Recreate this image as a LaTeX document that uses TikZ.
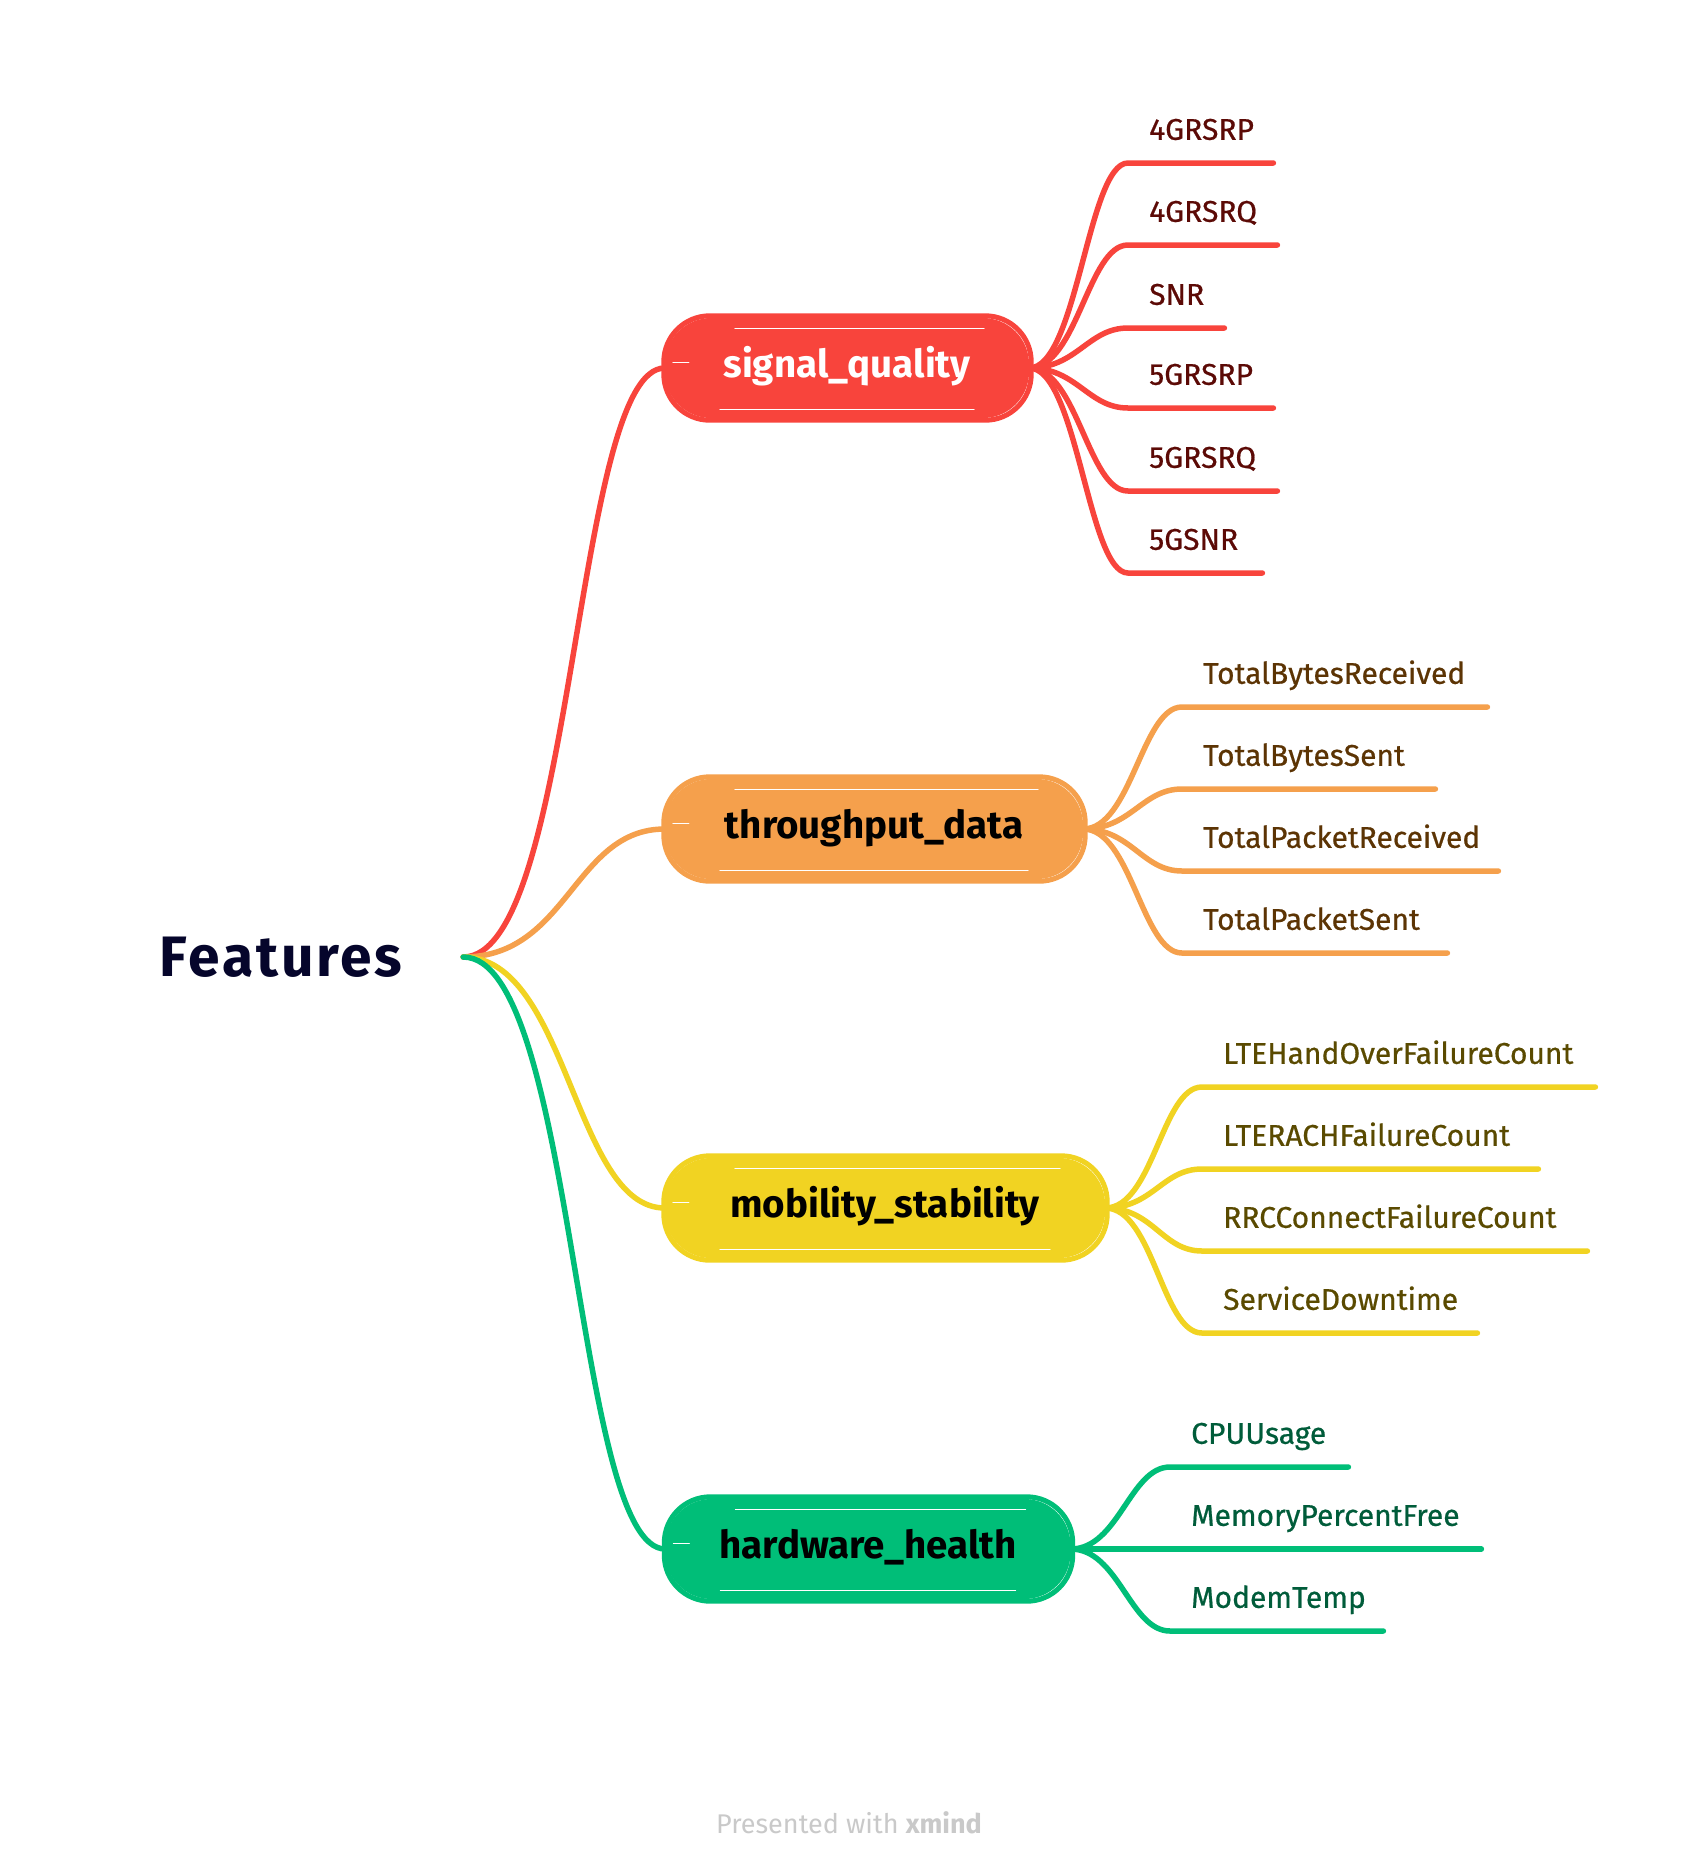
\documentclass[tikz,border=0pt]{standalone}
\usepackage{fontspec}
\setmainfont{Fira Sans}
\usetikzlibrary{calc}
\definecolor{cred}{HTML}{F8443C}
\definecolor{corange}{HTML}{F5A04C}
\definecolor{cyellow}{HTML}{F1D322}
\definecolor{cgreen}{HTML}{00BE78}
\definecolor{tred}{HTML}{5C0A06}
\definecolor{torange}{HTML}{5C3404}
\definecolor{tyellow}{HTML}{5A4A00}
\definecolor{tgreen}{HTML}{005C3A}
\definecolor{troot}{HTML}{05052B}
\definecolor{tfoot}{HTML}{C9C9C9}
\newcommand\sketchbox[2]{%
  \draw[#2, line width=5pt, rounded corners=46pt] ($(#1.north west)+(-1,-2)$) rectangle ($(#1.south east)+(2,2)$);
  \draw[white, line width=1pt, line cap=round] ($(#1.north west)+(70,11)$) -- ($(#1.north east)+(-45,11)$);
  \draw[white, line width=1pt, line cap=round] ($(#1.south west)+(55,-9)$) -- ($(#1.south east)+(-55,-9)$);
  \draw[white, line width=1pt, line cap=round] ($(#1.west)+(8,-6)$) -- ++(16,0);
}
\begin{document}
\begin{tikzpicture}[x=1pt,y=-1pt,
  rootnode/.style={inner sep=0pt, minimum width=364pt, text=troot, font=\bfseries\fontsize{57}{64}\selectfont\addfontfeature{LetterSpace=5}},
  topic/.style={inner sep=0pt, minimum height=100pt, rounded corners=46pt, text height=28pt, text depth=9pt, font=\bfseries\fontsize{38.5}{44}\selectfont},
  leaf/.style={anchor=south west, inner xsep=21pt, inner ysep=23pt, text depth=0pt, font=\fontsize{30}{35}\selectfont\addfontfeature{FakeBold=0.6}},
  br/.style={line width=5.5pt, line cap=round},
  footer/.style={text=tfoot, font=\fontsize{27}{32}\selectfont}]
\useasboundingbox[fill=white] (0,0) rectangle (1692,1872);

% root
\node[rootnode] (root) at (281,957) {Features};

% topics
\node[topic, fill=cred, text=white, minimum width=364pt] (sq) at (847,368) {signal\_quality};
\node[topic, fill=corange, text=black, minimum width=418pt] (td) at (874,829) {throughput\_data};
\node[topic, fill=cyellow, text=black, minimum width=440pt] (ms) at (885,1208) {mobility\_stability};
\node[topic, fill=cgreen, text=black, minimum width=405pt] (hh) at (868,1549) {hardware\_health};

% root branches
\draw[br, cred]    (root.east) .. controls +(112,0) and +(-91,0) .. (sq.west);
\draw[br, corange] (root.east) .. controls +(105,0) and +(-91,0) .. (td.west);
\draw[br, cyellow] (root.east) .. controls +(105,0) and +(-91,0) .. (ms.west);
\draw[br, cgreen]  (root.east) .. controls +(112,0) and +(-91,0) .. (hh.west);

\sketchbox{sq}{cred}
\sketchbox{td}{corange}
\sketchbox{ms}{cyellow}
\sketchbox{hh}{cgreen}

% signal_quality leaves
\begin{scope}[every node/.append style={text=tred}]
\node[leaf] (s1) at (1128,163) {\makebox[103pt][l]{4GRSRP}};
\node[leaf] (s2) at (1128,245) {\makebox[107pt][l]{4GRSRQ}};
\node[leaf] (s3) at (1128,328) {\makebox[54pt][l]{SNR}};
\node[leaf] (s4) at (1128,408) {\makebox[103pt][l]{5GRSRP}};
\node[leaf] (s5) at (1128,491) {\makebox[107pt][l]{5GRSRQ}};
\node[leaf] (s6) at (1128,573) {\makebox[92pt][l]{5GSNR}};
\end{scope}
\foreach \n in {s1,s2,s3,s4,s5,s6}
  \draw[br, cred] (sq.east) .. controls +(48,0) and +(-40,0) .. (\n.south west) -- (\n.south east);

% throughput_data leaves
\begin{scope}[every node/.append style={text=torange}]
\node[leaf] (t1) at (1182,707) {\makebox[263pt][l]{TotalBytesReceived}};
\node[leaf] (t2) at (1182,789) {\makebox[211pt][l]{TotalBytesSent}};
\node[leaf] (t3) at (1182,871) {\makebox[274pt][l]{TotalPacketReceived}};
\node[leaf] (t4) at (1182,953) {\makebox[223pt][l]{TotalPacketSent}};
\end{scope}
\foreach \n in {t1,t2,t3,t4}
  \draw[br, corange] (td.east) .. controls +(48,0) and +(-40,0) .. (\n.south west) -- (\n.south east);

% mobility_stability leaves
\begin{scope}[every node/.append style={text=tyellow}]
\node[leaf] (m1) at (1202,1087) {\makebox[351pt][l]{LTEHandOverFailureCount}};
\node[leaf] (m2) at (1202,1169) {\makebox[294pt][l]{LTERACHFailureCount}};
\node[leaf] (m3) at (1202,1251) {\makebox[343pt][l]{RRCConnectFailureCount}};
\node[leaf] (m4) at (1202,1333) {\makebox[233pt][l]{ServiceDowntime}};
\end{scope}
\foreach \n in {m1,m2,m3,m4}
  \draw[br, cyellow] (ms.east) .. controls +(48,0) and +(-40,0) .. (\n.south west) -- (\n.south east);

% hardware_health leaves
\begin{scope}[every node/.append style={text=tgreen}]
\node[leaf] (h1) at (1170,1467) {\makebox[136pt][l]{CPUUsage}};
\node[leaf] (h2) at (1170,1549) {\makebox[269pt][l]{MemoryPercentFree}};
\node[leaf] (h3) at (1170,1631) {\makebox[171pt][l]{ModemTemp}};
\end{scope}
\foreach \n in {h1,h2,h3}
  \draw[br, cgreen] (hh.east) .. controls +(48,0) and +(-40,0) .. (\n.south west) -- (\n.south east);

% footer
\node[footer] (foot) at (849,1823) {Presented with \textbf{xmind}};
\end{tikzpicture}
\end{document}
